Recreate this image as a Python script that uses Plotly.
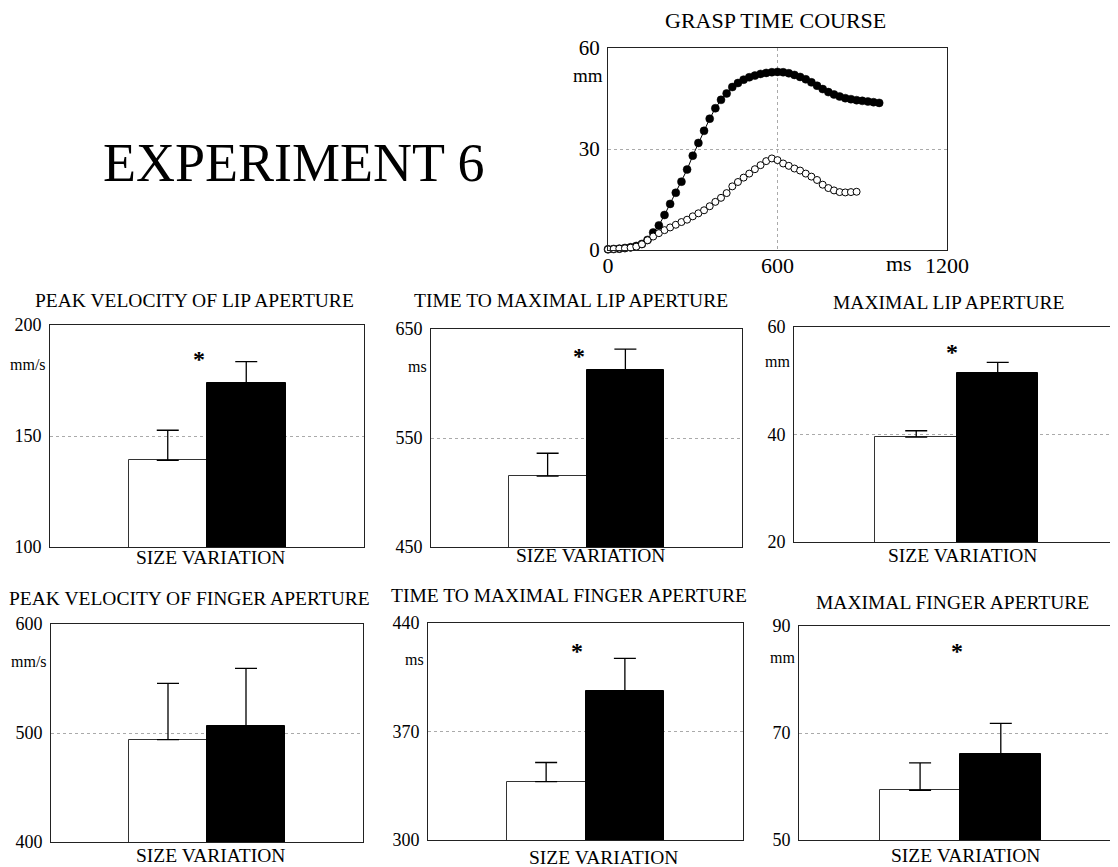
import plotly.graph_objects as go

W, H = 1118, 867
OFF = 8  # the page body adds an 8 px margin; the figure is shrunk to compensate
FONT = "Liberation Serif, Times New Roman, serif"

# ---------------- data: grasp time course ----------------
time_filled = [0, 20, 40, 60, 80, 100, 120, 140, 160, 180, 200, 220, 240, 260, 280, 300,
               320, 340, 360, 380, 400, 420, 440, 460, 480, 500, 520, 540, 560, 580, 600,
               620, 640, 660, 680, 700, 720, 740, 760, 780, 800, 820, 840, 860, 880, 900,
               920, 940, 960]
aperture_filled = [0.2, 0.3, 0.4, 0.6, 0.8, 1.2, 1.8, 3.0, 5.2, 7.3, 10.4, 13.7, 17.0, 20.3,
                   23.9, 28.0, 31.8, 35.4, 39.0, 42.1, 44.6, 46.5, 48.4, 49.6, 50.6, 51.3,
                   51.8, 52.3, 52.6, 52.8, 52.9, 52.8, 52.5, 52.0, 51.4, 50.7, 49.8, 48.8,
                   47.8, 46.9, 46.2, 45.6, 45.1, 44.8, 44.5, 44.3, 44.1, 43.9, 43.7]

time_open = [0, 20, 40, 60, 80, 100, 120, 140, 160, 180, 200, 220, 240, 260, 280, 300,
             320, 340, 360, 380, 400, 420, 440, 460, 480, 500, 520, 540, 560, 580, 600,
             620, 640, 660, 680, 700, 720, 740, 760, 780, 800, 820, 840, 860, 880]
aperture_open = [0.2, 0.3, 0.4, 0.5, 0.7, 1.0, 1.7, 2.9, 4.0, 5.0, 5.9, 6.7, 7.5, 8.3, 9.0,
                 10.0, 10.9, 11.8, 13.0, 14.3, 15.5, 16.9, 18.9, 20.2, 21.5, 22.7, 24.0,
                 25.2, 26.4, 27.2, 26.7, 25.7, 25.0, 24.2, 23.6, 22.7, 21.8, 20.8, 19.4,
                 18.4, 17.7, 17.2, 17.1, 17.2, 17.3]

tc_xticks = [0, 600, 1200]
tc_yticks = [0, 30, 60]

# ---------------- data: bar panels ----------------
conditions = ["small", "large"]
panel_titles = ["PEAK VELOCITY OF LIP APERTURE", "TIME TO MAXIMAL LIP APERTURE",
                "MAXIMAL LIP APERTURE", "PEAK VELOCITY OF FINGER APERTURE",
                "TIME TO MAXIMAL FINGER APERTURE", "MAXIMAL FINGER APERTURE"]
panel_units = ["mm/s", "ms", "mm", "mm/s", "ms", "mm"]
white_means = [139.0, 515.0, 39.5, 494.0, 337.7, 59.3]
white_err = [13.6, 21.0, 1.2, 51.6, 12.3, 5.1]
black_means = [173.7, 612.0, 51.4, 506.0, 396.3, 66.1]
black_err = [9.8, 19.5, 2.0, 53.3, 20.9, 5.7]
y_ticks = [[100, 150, 200], [450, 550, 650], [20, 40, 60],
           [400, 500, 600], [300, 370, 440], [50, 70, 90]]
significant = [True, True, True, False, True, True]

# ---------------- layout (pixel geometry of the page) ----------------
FW, FH = W - OFF, H - OFF

def px_x(p):
    return (p - OFF) / FW

def px_y(p):
    return 1 - (p - OFF) / FH

# plot boxes in page pixels: (left, right, top, bottom)
tc_box = (608, 947, 48, 250)
panel_boxes = [(50, 364, 325, 547), (431, 742, 329, 547), (794, 1118, 327, 542),
               (51, 363, 624, 842), (428, 743, 623, 840), (799, 1118, 626, 840)]
# fraction of the nominal box width that is visible (right panels are cut at page edge)
panel_visible = [1.0, 1.0, 0.994, 1.0, 1.0, 0.988]
title_pos = [(194, 300), (571, 300), (948, 302), (189, 598), (569, 595), (952, 602)]
xlabel_pos = [(210, 557), (590, 555), (962, 555), (210, 855), (603, 857), (965, 855)]
star_pos = [(0.475, 0.86), (0.476, 0.89), (0.488, 0.90), (0.48, 0.88), (0.473, 0.885), (0.495, 0.897)]
unit_pos = [0.82, 0.83, 0.84, 0.826, 0.83, 0.855]

fig = go.Figure()

# time course traces
fig.add_trace(go.Scatter(
    x=time_filled, y=aperture_filled, mode="lines+markers",
    line=dict(color="black", width=1),
    marker=dict(size=8, color="black", line=dict(color="black", width=0.5)),
    xaxis="x", yaxis="y", showlegend=False, cliponaxis=False))
fig.add_trace(go.Scatter(
    x=time_open, y=aperture_open, mode="lines+markers",
    line=dict(color="black", width=1),
    marker=dict(size=7, color="white", line=dict(color="black", width=1)),
    xaxis="x", yaxis="y", showlegend=False, cliponaxis=False))

axis_common = dict(showline=True, linecolor="#222", linewidth=1, mirror=True,
                   zeroline=False, ticks="", automargin=False,
                   tickfont=dict(family=FONT, size=18, color="black"))

layout = dict(
    template="none",
    width=FW, height=FH, margin=dict(l=0, r=0, t=0, b=0, pad=0, autoexpand=False),
    paper_bgcolor="white", plot_bgcolor="white",
    font=dict(family=FONT, color="black"),
    showlegend=False, bargap=0,
)

l, r, t, b = tc_box
layout["xaxis"] = dict(axis_common, domain=[px_x(l), px_x(r)], range=[0, 1200],
                       tickvals=tc_xticks, ticktext=[str(v) for v in tc_xticks],
                       showgrid=True, gridcolor="#aaa", griddash="dot", gridwidth=1,
                       tickfont=dict(family=FONT, size=22, color="black"),
                       anchor="y", ticklabelstandoff=-4)
layout["yaxis"] = dict(axis_common, domain=[px_y(b), px_y(t)], range=[0, 60],
                       tickvals=tc_yticks, showgrid=True, gridcolor="#aaa", griddash="dot",
                       gridwidth=1, tickfont=dict(family=FONT, size=21, color="black"),
                       anchor="x", ticklabelstandoff=3)

def ann(text, x, y, size, xanchor="center", **kw):
    d = dict(text=text, x=x, y=y, xref="paper", yref="paper", xanchor=xanchor,
             yanchor="middle", showarrow=False, font=dict(family=FONT, size=size, color="black"))
    d.update(kw)
    return d

annotations = [
    ann("EXPERIMENT 6", px_x(294), px_y(163), 54),
    ann("GRASP TIME COURSE", px_x(775), px_y(20), 22),
    ann("mm", px_x(605), px_y(75), 19, xanchor="right"),
    ann("ms", px_x(914), px_y(263), 22, xanchor="right"),
]

for i in range(6):
    n = i + 2
    xa, ya = f"x{n}", f"y{n}"
    l, r, t, b = panel_boxes[i]
    fig.add_trace(go.Bar(
        x=conditions, y=[white_means[i], black_means[i]],
        marker=dict(color=["white", "black"], line=dict(color=["#333", "black"], width=1)),
        error_y=dict(type="data", symmetric=False, array=[white_err[i], black_err[i]],
                     arrayminus=[0, 0], color="black", thickness=1.3, width=11),
        xaxis=xa, yaxis=ya, showlegend=False))
    yt = y_ticks[i]
    layout[f"xaxis{n}"] = dict(axis_common, domain=[px_x(l), px_x(r)],
                               range=[-1.5, -1.5 + 4 * panel_visible[i]],
                               showticklabels=False, showgrid=False, anchor=ya)
    layout[f"yaxis{n}"] = dict(axis_common, domain=[px_y(b), px_y(t)], range=[yt[0], yt[-1]],
                               tickvals=yt, showgrid=True, gridcolor="#aaa", griddash="dot",
                               gridwidth=1, anchor=xa, ticklabelstandoff=4,
                               mirror=(panel_visible[i] == 1.0))
    tx, ty = title_pos[i]
    annotations.append(ann(panel_titles[i], px_x(tx), px_y(ty), 19.5))
    sx, sy = xlabel_pos[i]
    annotations.append(ann("SIZE VARIATION", px_x(sx), px_y(sy), 19.5))
    annotations.append(dict(text=panel_units[i], x=0, y=unit_pos[i], xref=f"{xa} domain",
                            yref=f"{ya} domain", xanchor="right", yanchor="middle",
                            xshift=-2, showarrow=False,
                            font=dict(family=FONT, size=16, color="black")))
    if significant[i]:
        ax, ay = star_pos[i]
        annotations.append(dict(text="<b>*</b>", x=ax, y=ay, xref=f"{xa} domain",
                                yref=f"{ya} domain", xanchor="center", yanchor="middle",
                                showarrow=False, yshift=-3,
                                font=dict(family=FONT, size=24, color="black")))

layout["annotations"] = annotations
fig.update_layout(**layout)
fig.write_html("out.html")
